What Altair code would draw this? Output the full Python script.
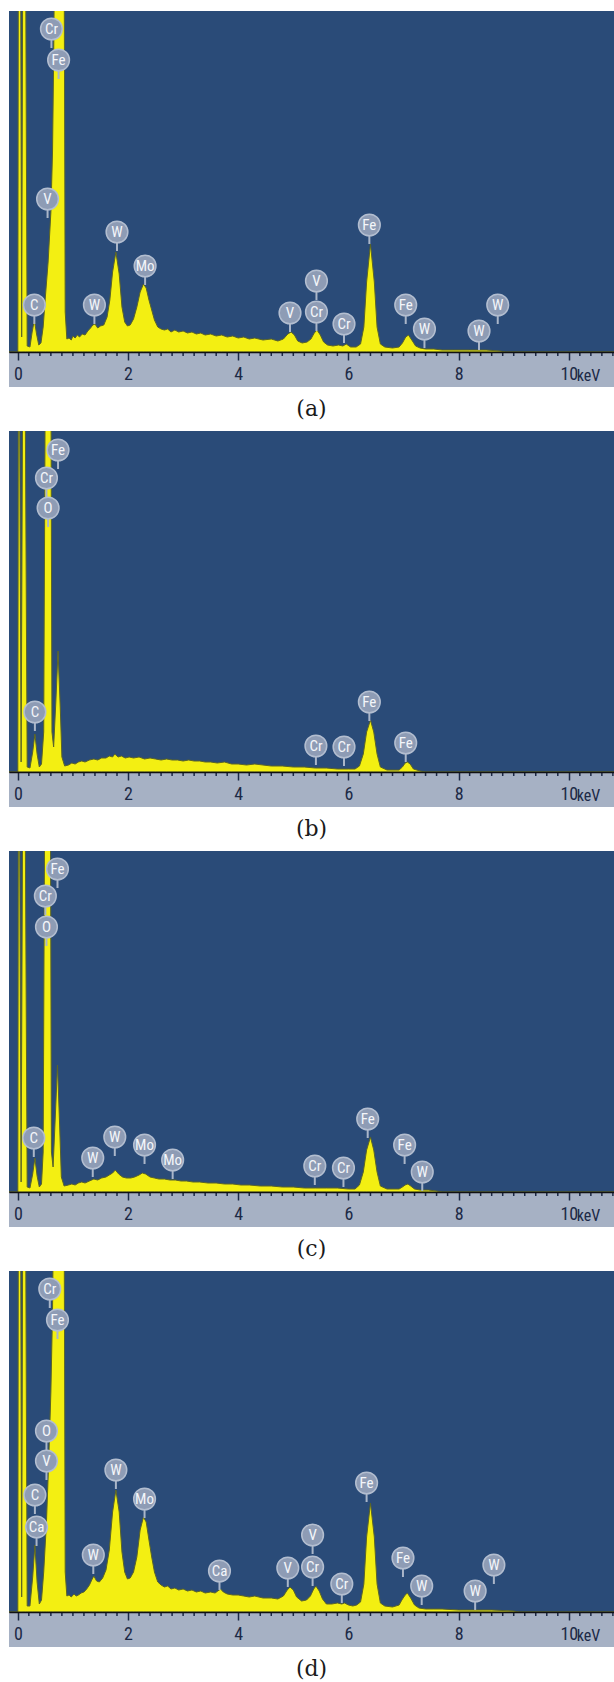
import altair as alt
import pandas as pd

# ---------------- data ----------------
X_MIN, X_MAX = -0.16, 10.82        # keV shown across each panel
Y_MIN, Y_MAX = -35, 341            # counts (arbitrary units); below 0 is the scale band

captions = ["(a)", "(b)", "(c)", "(d)"]
major_ticks = [0, 2, 4, 6, 8, 10]
minor_ticks = [round(0.2 * i, 1) for i in range(0, 55) if i % 10 != 0]
unit_label = ["keV"]

# spectrum (a): (keV, counts)
spec_a = [(-0.16, 0), (0.0, 0), (0.01, 420), (0.05, 420), (0.07, 15), (0.09, 420), (0.14, 420),
          (0.17, 6), (0.22, 5), (0.26, 20), (0.30, 32), (0.34, 18), (0.38, 7), (0.42, 9), (0.46, 25),
          (0.50, 55), (0.55, 90), (0.60, 140), (0.63, 200), (0.65, 290), (0.67, 420), (0.84, 420),
          (0.86, 40), (0.89, 13), (0.93, 14), (0.97, 12), (1.00, 16), (1.04, 14), (1.08, 17),
          (1.12, 15), (1.17, 18), (1.22, 17), (1.27, 21), (1.32, 24), (1.36, 27), (1.40, 28),
          (1.45, 24), (1.50, 26), (1.56, 27), (1.62, 35), (1.67, 52), (1.72, 80), (1.78, 100),
          (1.84, 78), (1.89, 45), (1.94, 30), (1.99, 26), (2.04, 27), (2.10, 33), (2.16, 45),
          (2.22, 60), (2.28, 68), (2.33, 64), (2.38, 52), (2.43, 42), (2.48, 32), (2.54, 25),
          (2.60, 23), (2.66, 22), (2.72, 23), (2.78, 20), (2.85, 22), (2.92, 20), (3.00, 21),
          (3.08, 19), (3.16, 20), (3.24, 18), (3.32, 19), (3.40, 17), (3.50, 18), (3.60, 16),
          (3.70, 17), (3.80, 15), (3.90, 16), (4.00, 14), (4.10, 15), (4.20, 13), (4.30, 14),
          (4.45, 12), (4.60, 13), (4.72, 11), (4.82, 13), (4.90, 18), (4.96, 20), (5.02, 17),
          (5.08, 11), (5.16, 9), (5.25, 10), (5.32, 13), (5.38, 19), (5.43, 22), (5.49, 17),
          (5.55, 10), (5.62, 7), (5.72, 6), (5.82, 7), (5.90, 6), (5.96, 8), (6.04, 5),
          (6.14, 5), (6.22, 8), (6.28, 25), (6.33, 70), (6.40, 108), (6.47, 70), (6.52, 25),
          (6.58, 8), (6.66, 5), (6.80, 4), (6.92, 5), (6.98, 9), (7.04, 15), (7.09, 17),
          (7.15, 12), (7.22, 6), (7.30, 4), (7.40, 3), (7.55, 3), (7.70, 2), (7.90, 2),
          (8.20, 2), (8.50, 2), (8.75, 1), (8.85, 0), (10.82, 0)]

# spectrum (b)
spec_b = [(-0.16, 0), (0.0, 0), (0.01, 420), (0.03, 420), (0.06, 10), (0.09, 420), (0.13, 420),
          (0.17, 5), (0.22, 4), (0.27, 20), (0.31, 38), (0.35, 18), (0.39, 5), (0.43, 8),
          (0.47, 40), (0.50, 420), (0.60, 420), (0.62, 40), (0.65, 25), (0.69, 70), (0.73, 121),
          (0.77, 65), (0.80, 15), (0.85, 6), (0.92, 7), (0.98, 9), (1.04, 8), (1.10, 10),
          (1.16, 11), (1.22, 10), (1.30, 12), (1.38, 13), (1.45, 12), (1.52, 14), (1.60, 14),
          (1.66, 16), (1.72, 15), (1.76, 18), (1.82, 15), (1.88, 16), (1.95, 14), (2.02, 15),
          (2.10, 14), (2.20, 15), (2.30, 13), (2.40, 14), (2.50, 13), (2.60, 12), (2.70, 13),
          (2.80, 12), (2.90, 12), (3.00, 11), (3.10, 12), (3.20, 11), (3.30, 11), (3.40, 10),
          (3.50, 10), (3.62, 9), (3.75, 10), (3.88, 8), (4.00, 8), (4.15, 7), (4.30, 8),
          (4.45, 7), (4.60, 6), (4.80, 6), (5.00, 5), (5.20, 5), (5.40, 4), (5.60, 4),
          (5.80, 3), (6.00, 3), (6.12, 3), (6.20, 6), (6.27, 18), (6.33, 40), (6.40, 52),
          (6.46, 40), (6.52, 18), (6.58, 5), (6.70, 2), (6.92, 2), (6.98, 5), (7.03, 9),
          (7.07, 10), (7.12, 8), (7.18, 3), (7.30, 1), (7.40, 0), (10.82, 0)]

# spectrum (c)
spec_c = [(-0.16, 0), (0.0, 0), (0.01, 420), (0.03, 420), (0.06, 10), (0.09, 420), (0.13, 420),
          (0.17, 5), (0.22, 4), (0.27, 18), (0.31, 34), (0.35, 16), (0.39, 5), (0.43, 8),
          (0.46, 40), (0.49, 420), (0.59, 420), (0.61, 40), (0.64, 25), (0.68, 75), (0.72, 127),
          (0.76, 65), (0.79, 15), (0.84, 6), (0.92, 7), (0.98, 8), (1.04, 7), (1.10, 9),
          (1.16, 10), (1.22, 9), (1.30, 11), (1.38, 13), (1.45, 12), (1.52, 14), (1.60, 15),
          (1.66, 17), (1.72, 19), (1.77, 22), (1.83, 18), (1.90, 15), (1.97, 14), (2.05, 14),
          (2.12, 15), (2.20, 17), (2.26, 19), (2.32, 18), (2.40, 15), (2.48, 14), (2.56, 13),
          (2.66, 13), (2.76, 12), (2.86, 12), (2.96, 11), (3.06, 11), (3.18, 10), (3.30, 10),
          (3.45, 9), (3.60, 9), (3.75, 8), (3.90, 8), (4.05, 7), (4.20, 7), (4.40, 6),
          (4.60, 6), (4.80, 5), (5.00, 5), (5.20, 4), (5.40, 4), (5.60, 4), (5.80, 4),
          (6.00, 3), (6.12, 3), (6.20, 7), (6.27, 20), (6.33, 42), (6.40, 55), (6.46, 42),
          (6.52, 20), (6.58, 6), (6.70, 3), (6.92, 3), (6.98, 5), (7.03, 7), (7.08, 8),
          (7.13, 6), (7.20, 3), (7.30, 2), (7.45, 2), (7.60, 1), (7.70, 0), (10.82, 0)]

# spectrum (d)
spec_d = [(-0.16, 0), (0.0, 0), (0.01, 420), (0.05, 420), (0.07, 15), (0.09, 420), (0.14, 420),
          (0.17, 6), (0.22, 6), (0.27, 35), (0.31, 67), (0.35, 30), (0.39, 8), (0.43, 12),
          (0.47, 40), (0.52, 90), (0.56, 150), (0.60, 220), (0.63, 300), (0.65, 420), (0.84, 420),
          (0.86, 40), (0.89, 16), (0.93, 17), (0.97, 15), (1.02, 18), (1.06, 16), (1.10, 17),
          (1.15, 19), (1.20, 20), (1.25, 23), (1.30, 27), (1.35, 33), (1.38, 36), (1.43, 31),
          (1.48, 30), (1.54, 34), (1.60, 42), (1.66, 62), (1.72, 100), (1.78, 122), (1.84, 100),
          (1.89, 60), (1.94, 40), (1.99, 33), (2.04, 34), (2.10, 40), (2.16, 55), (2.22, 82),
          (2.28, 95), (2.33, 90), (2.38, 72), (2.43, 55), (2.48, 40), (2.54, 30), (2.60, 27),
          (2.66, 25), (2.72, 26), (2.78, 23), (2.85, 24), (2.92, 22), (3.00, 23), (3.08, 21),
          (3.16, 22), (3.24, 20), (3.32, 21), (3.40, 19), (3.50, 20), (3.58, 19), (3.63, 21),
          (3.68, 23), (3.73, 20), (3.80, 18), (3.90, 17), (4.00, 17), (4.10, 16), (4.20, 15),
          (4.30, 16), (4.45, 14), (4.60, 14), (4.72, 13), (4.82, 16), (4.89, 22), (4.94, 25),
          (5.00, 22), (5.06, 15), (5.15, 11), (5.24, 12), (5.31, 16), (5.37, 23), (5.41, 26),
          (5.47, 21), (5.53, 13), (5.60, 8), (5.70, 8), (5.80, 9), (5.88, 8), (5.93, 9),
          (6.00, 7), (6.08, 6), (6.15, 7), (6.22, 10), (6.28, 28), (6.33, 75), (6.40, 109),
          (6.47, 75), (6.52, 28), (6.58, 9), (6.66, 6), (6.80, 5), (6.92, 7), (6.97, 12),
          (7.03, 17), (7.07, 19), (7.13, 14), (7.20, 7), (7.28, 4), (7.40, 3), (7.55, 3),
          (7.70, 3), (8.00, 2), (8.30, 2), (8.60, 2), (9.00, 1), (9.10, 0), (10.82, 0)]

# peak labels: element, keV, counts (centre of the badge)
labels_a = [("Cr", 0.61, 323), ("Fe", 0.74, 292), ("V", 0.54, 153), ("C", 0.30, 47),
            ("W", 1.39, 47), ("W", 1.80, 120), ("Mo", 2.31, 86), ("V", 4.94, 39),
            ("V", 5.42, 71), ("Cr", 5.42, 40), ("Cr", 5.92, 28), ("Fe", 6.38, 127),
            ("Fe", 7.04, 47), ("W", 7.38, 23), ("W", 8.37, 21), ("W", 8.71, 47)]
labels_b = [("Fe", 0.73, 322), ("Cr", 0.52, 294), ("O", 0.55, 264), ("C", 0.31, 60),
            ("Cr", 5.41, 26), ("Cr", 5.92, 25), ("Fe", 6.38, 70), ("Fe", 7.04, 29)]
labels_c = [("Fe", 0.72, 323), ("Cr", 0.50, 296), ("O", 0.52, 265), ("C", 0.29, 54),
            ("W", 1.36, 34), ("W", 1.76, 55), ("Mo", 2.30, 47), ("Mo", 2.81, 32),
            ("Cr", 5.39, 26), ("Cr", 5.91, 24), ("Fe", 6.35, 73), ("Fe", 7.02, 47),
            ("W", 7.34, 20)]
labels_d = [("Cr", 0.58, 323), ("Fe", 0.72, 292), ("O", 0.52, 181), ("V", 0.52, 151),
            ("C", 0.31, 117), ("Ca", 0.34, 85), ("W", 1.37, 57), ("W", 1.78, 142),
            ("Mo", 2.30, 113), ("Ca", 3.66, 41), ("V", 4.90, 44), ("V", 5.35, 77),
            ("Cr", 5.35, 45), ("Cr", 5.88, 28), ("Fe", 6.33, 129), ("Fe", 6.99, 54),
            ("W", 7.33, 26), ("W", 8.30, 21), ("W", 8.64, 47)]

# ---------------- styling ----------------
W, H = 605, 376
BLUE = "#2a4b78"
BAND = "#a6b1c4"
YELLOW = "#f3ef12"
NAVY = "#1c2946"
NARROW = "Liberation Sans Narrow, Roboto Condensed, DejaVu Sans Condensed, Liberation Sans, Arial"

xs = alt.Scale(domain=[X_MIN, X_MAX], nice=False, zero=False)
ys = alt.Scale(domain=[Y_MIN, Y_MAX], nice=False, zero=False)
bg_df = pd.DataFrame({"x0": [X_MIN], "x1": [X_MAX], "lo": [0], "hi": [Y_MAX]})
band_df = pd.DataFrame({"x0": [X_MIN], "x1": [X_MAX], "lo": [Y_MIN], "hi": [0]})
minor_df = pd.DataFrame({"t": minor_ticks, "base": [0] * len(minor_ticks)})
unit_df = pd.DataFrame({"u": unit_label, "x": [10]})

X_AXIS = alt.Axis(
    values=major_ticks, offset=-35, title=None, grid=False, zindex=1,
    domainColor="#111111", domainWidth=1.5, tickColor=NAVY, tickWidth=1.5,
    tickSize=8, labelColor=NAVY, labelFont=NARROW, labelFontSize=18,
    labelPadding=5, labelFlush=False)


def panel(caption, spec, labels):
    sdf = pd.DataFrame(spec, columns=["keV", "counts"])
    sdf["base"] = 0
    ldf = pd.DataFrame(labels, columns=["el", "keV", "counts"])

    bg = alt.Chart(bg_df).mark_rect(color=BLUE).encode(
        x=alt.X("x0:Q", scale=xs, axis=X_AXIS), x2="x1:Q",
        y=alt.Y("hi:Q", scale=ys, axis=None), y2="lo:Q")
    band = alt.Chart(band_df).mark_rect(color=BAND).encode(
        x=alt.X("x0:Q", scale=xs, axis=X_AXIS), x2="x1:Q",
        y=alt.Y("hi:Q", scale=ys, axis=None), y2="lo:Q")

    area = alt.Chart(sdf).mark_area(
        color=YELLOW, stroke="#5a6428", strokeWidth=1, clip=True, interpolate="linear"
    ).encode(
        x=alt.X("keV:Q", scale=xs, axis=X_AXIS),
        y=alt.Y("counts:Q", scale=ys, axis=None),
        y2="base:Q",
    )

    minor = alt.Chart(minor_df).mark_rule(color=NAVY, strokeWidth=1.5).encode(
        x=alt.X("t:Q", scale=xs, axis=X_AXIS), y=alt.Y("base:Q", scale=ys, axis=None),
        y2=alt.value(341 + 4))

    unit = alt.Chart(unit_df).mark_text(
        align="left", baseline="alphabetic", dx=8, font=NARROW, fontSize=16, color=NAVY
    ).encode(x=alt.X("x:Q", scale=xs, axis=X_AXIS), y=alt.value(H - 6), text="u:N")

    pins = alt.Chart(ldf).transform_calculate(pin_end="datum.counts - 19").mark_rule(
        color="#aab6c9", strokeWidth=2).encode(
        x=alt.X("keV:Q", scale=xs, axis=X_AXIS), y=alt.Y("counts:Q", scale=ys, axis=None),
        y2="pin_end:Q")
    dots = alt.Chart(ldf).mark_point(
        shape="circle", filled=True, size=470, fill="#8e9cb5", stroke="#b3bed0",
        strokeWidth=1.5, opacity=1).encode(
        x=alt.X("keV:Q", scale=xs, axis=X_AXIS), y=alt.Y("counts:Q", scale=ys, axis=None))
    txt = alt.Chart(ldf).mark_text(
        color="#f4f6fa", font=NARROW, fontSize=15, baseline="middle", align="center").encode(
        x=alt.X("keV:Q", scale=xs, axis=X_AXIS), y=alt.Y("counts:Q", scale=ys, axis=None),
        text="el:N")

    return alt.layer(bg, band, area, minor, unit, pins, dots, txt).properties(
        width=W, height=H,
        title=alt.TitleParams(caption, orient="bottom", anchor="middle", font="DejaVu Serif",
                              fontSize=22, fontWeight="normal", color="#1a1a1a", offset=12))


chart = alt.vconcat(
    panel(captions[0], spec_a, labels_a),
    panel(captions[1], spec_b, labels_b),
    panel(captions[2], spec_c, labels_c),
    panel(captions[3], spec_d, labels_d),
    spacing=11,
).properties(
    padding={"left": 9, "top": 11, "right": 0, "bottom": 0},
    background="white",
).configure_view(stroke=None)

chart.save("out.html", embed_options={"renderer": "svg", "actions": False})
